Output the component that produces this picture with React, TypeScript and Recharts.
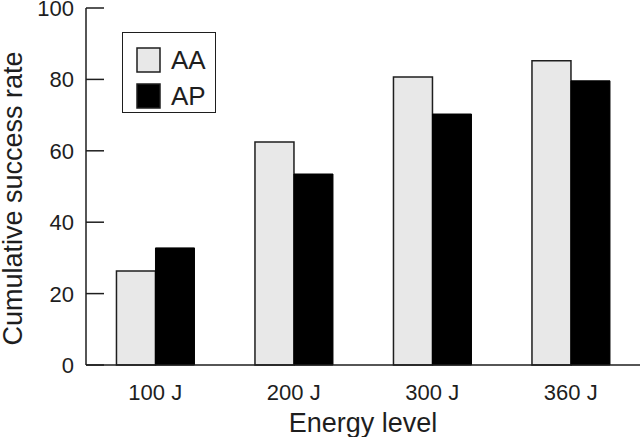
import { BarChart, Bar, XAxis, YAxis, Legend, Label } from 'recharts';

const categories = ['100 J', '200 J', '300 J', '360 J'];
const aaValues = [26.3, 62.5, 80.7, 85.2];
const apValues = [32.8, 53.5, 70.3, 79.6];
const yTicks = [0, 20, 40, 60, 80, 100];

const data = categories.map((name, i) => ({ name, AA: aaValues[i], AP: apValues[i] }));

const FONT = '"Liberation Sans", Arial, Helvetica, sans-serif';
const INK = '#1e1e1e';

// y ticks point inwards, label sits left of the axis
function YTick(props: any) {
  const { x, y, payload } = props;
  return (
    <g>
      <line x1={x + 12} x2={x + 30} y1={y} y2={y} stroke={INK} strokeWidth={1.5} />
      <text x={x} y={y} dy={8} textAnchor="end" fontSize={22} fill={INK} fontFamily={FONT}>
        {payload.value}
      </text>
    </g>
  );
}

function YLabel(props: any) {
  const { viewBox } = props;
  const cx = viewBox.x + 22;
  const cy = viewBox.y + viewBox.height / 2 + 12;
  return (
    <text x={cx} y={cy} transform={`rotate(-90, ${cx}, ${cy})`} textAnchor="middle" fontSize={27} fill={INK} fontFamily={FONT}>
      Cumulative success rate
    </text>
  );
}

function LegendBox(props: any) {
  const { payload } = props;
  return (
    <div style={{ border: `1.5px solid ${INK}`, background: '#fff', width: 94, height: 81, boxSizing: 'border-box', padding: '9px 0 0 13px' }}>
      {(payload || []).map((p: any) => (
        <div key={p.value} style={{ display: 'flex', alignItems: 'center', height: 36, fontFamily: FONT, fontSize: 26, color: INK }}>
          <svg width={26} height={27} style={{ marginRight: 9 }}>
            <rect x={1} y={1} width={23} height={24} fill={p.value === 'AA' ? '#e8e8e8' : '#000'} stroke={INK} strokeWidth={1.5} />
          </svg>
          <span style={{ lineHeight: '26px' }}>{p.value}</span>
        </div>
      ))}
    </div>
  );
}

export default function App() {
  return (
    <div style={{ position: 'absolute', left: 0, top: 0, background: '#fff' }}>
      <BarChart
        width={640}
        height={437}
        data={data}
        margin={{ top: 8, right: 0, bottom: 0, left: 0 }}
        barCategoryGap="22%"
        barGap={0}
      >
        <XAxis
          dataKey="name"
          height={72}
          tickLine={false}
          axisLine={{ stroke: INK, strokeWidth: 1.5 }}
          tickMargin={13}
          tick={{ fontSize: 22, fill: INK, fontFamily: FONT }}
        >
          <Label value="Energy level" position="insideBottom" offset={5} fontSize={27} fill={INK} fontFamily={FONT} />
        </XAxis>
        <YAxis
          width={86}
          domain={[0, 100]}
          ticks={yTicks}
          interval={0}
          tickLine={false}
          tickSize={0}
          tickMargin={12}
          axisLine={{ stroke: INK, strokeWidth: 1.5 }}
          tick={<YTick />}
        >
          <Label content={<YLabel />} />
        </YAxis>
        <Legend
          layout="vertical"
          verticalAlign="middle"
          align="center"
          content={<LegendBox />}
          wrapperStyle={{ left: 122, top: 32, width: 94 }}
        />
        <Bar dataKey="AA" fill="#e8e8e8" stroke={INK} strokeWidth={1.5} isAnimationActive={false} legendType="square" />
        <Bar dataKey="AP" fill="#000" stroke="#000" strokeWidth={1} isAnimationActive={false} legendType="square" />
      </BarChart>
    </div>
  );
}
